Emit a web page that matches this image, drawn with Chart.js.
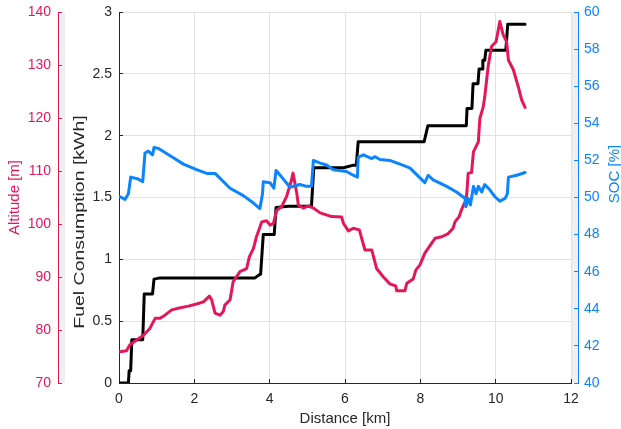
<!DOCTYPE html>
<html>
<head>
<meta charset="utf-8">
<script src="https://cdn.jsdelivr.net/npm/chart.js@4.4.0/dist/chart.umd.min.js"></script>
<style>
  body { margin: 0; background: #fff; }
</style>
</head>
<body>
<canvas id="chart" width="621" height="429"></canvas>
<script>
// fuel consumption (stairs)
const fuelKm = [0, 0.25, 0.27, 0.31, 0.34, 0.63, 0.67, 0.89, 0.93, 1.09, 3.61, 3.7, 3.76, 3.83, 4.12, 4.17, 4.5, 5.11, 5.17,
  5.96, 6.2, 6.3, 6.35, 8.1, 8.2, 9.22, 9.24, 9.37, 9.4, 9.53, 9.56, 9.64, 9.66, 9.71, 9.74, 10.27, 10.32, 10.78];
const fuelKwh = [0, 0, 0.1, 0.1, 0.35, 0.35, 0.72, 0.72, 0.84, 0.85, 0.85, 0.87, 0.88, 1.2, 1.2, 1.42, 1.43, 1.43, 1.74,
  1.74, 1.76, 1.76, 1.95, 1.95, 2.08, 2.08, 2.22, 2.22, 2.42, 2.42, 2.54, 2.54, 2.61, 2.61, 2.69, 2.69, 2.9, 2.9];

// altitude
const altKm = [0.03, 0.2, 0.29, 0.47, 0.65, 0.82, 0.96, 1.09, 1.22, 1.4, 1.57, 1.84, 2.06, 2.24, 2.4, 2.46, 2.55, 2.68,
  2.77, 2.81, 2.95, 3.03, 3.21, 3.39, 3.46, 3.57, 3.65, 3.79, 3.92, 4.01, 4.1, 4.19, 4.32, 4.45, 4.58, 4.62, 4.72, 4.76,
  4.89, 5.03, 5.16, 5.34, 5.65, 5.91, 5.96, 6.09, 6.22, 6.38, 6.53, 6.71, 6.84, 7.02, 7.19, 7.35, 7.37, 7.59, 7.64, 7.81,
  7.88, 7.99, 8.12, 8.39, 8.57, 8.74, 8.87, 8.92, 9.03, 9.1, 9.19, 9.23, 9.25, 9.27, 9.36, 9.41, 9.54, 9.58, 9.67, 9.71,
  9.8, 9.89, 10.01, 10.11, 10.2, 10.29, 10.34, 10.47, 10.6, 10.69, 10.78];
const altM = [75.9, 76.1, 77.2, 78.1, 79, 80.3, 82.2, 82.2, 82.8, 83.8, 84.1, 84.5, 84.9, 85.3, 86.4, 85.7, 83.2, 82.8,
  83.5, 84.7, 85.7, 89.1, 91, 91.6, 93.8, 95.4, 97.6, 100.4, 100.6, 99.8, 100.1, 102.6, 103.3, 105.2, 108.3, 109.6, 105.8, 103.6,
  103, 103.4, 103, 102.1, 101.4, 101.3, 100.1, 98.7, 99.2, 98.9, 95.1, 95.1, 91.6, 90, 88.7, 88.3, 87.4, 87.4, 88.8, 89.6,
  91.3, 92.3, 94.5, 97.3, 97.6, 98.2, 99.2, 100.4, 101.4, 102.8, 104.2, 105.5, 107.4, 109.6, 109.7, 113.6, 115.5, 119.9, 122.1, 124,
  129.7, 133.5, 134.4, 138.2, 135.7, 134.4, 130.9, 129.1, 125.9, 123.4, 122];

// state of charge
const socKm = [0.03, 0.16, 0.25, 0.31, 0.51, 0.63, 0.69, 0.78, 0.89, 0.93, 1.04, 1.4, 1.71, 2.06, 2.33, 2.55, 2.95, 3.3,
  3.57, 3.74, 3.81, 3.83, 4.01, 4.11, 4.17, 4.32, 4.54, 4.8, 4.98, 5.11, 5.16, 5.34, 5.51, 5.69, 6.04, 6.22, 6.33, 6.35,
  6.49, 6.71, 6.8, 6.93, 7.19, 7.46, 7.72, 8.12, 8.21, 8.34, 8.7, 8.96, 9.19, 9.21, 9.27, 9.33, 9.41, 9.48, 9.54, 9.63,
  9.71, 9.85, 9.98, 10.11, 10.25, 10.31, 10.34, 10.56, 10.78];
const socPct = [50.04, 49.9, 50.2, 51.1, 51.0, 50.85, 52.4, 52.5, 52.3, 52.7, 52.65, 52.2, 51.8, 51.5, 51.3, 51.3, 50.5, 50.1,
  49.7, 49.4, 50.2, 50.85, 50.8, 50.5, 51.45, 51.1, 50.55, 50.7, 50.6, 50.6, 52.0, 51.85, 51.75, 51.5, 51.4, 51.2, 51.1, 52.17,
  52.3, 52.1, 52.2, 52.05, 52.0, 51.8, 51.6, 50.8, 51.2, 50.95, 50.6, 50.3, 49.95, 49.5, 49.95, 49.6, 50.6, 50.2, 50.6, 50.3,
  50.7, 50.4, 50.04, 49.8, 49.95, 50.2, 51.1, 51.2, 51.35];

const FONT = "'Liberation Sans', Arial, Helvetica, sans-serif";
const PINK = '#e5175b';
const BLUE = '#0a84ff';
const INK = '#262626';
const GRID = '#e2e2e2';

const pts = (xs, ys) => xs.map((x, i) => ({ x: x, y: ys[i] }));

// keep the plot box where the layout padding puts it
function noPad(s) { s.paddingTop = 0; s.paddingBottom = 0; s.paddingLeft = 0; s.paddingRight = 0; }

// light grey strips beside the outer axes
const bands = {
  id: 'bands',
  beforeDraw(chart) {
    const { ctx, chartArea } = chart;
    const alt = chart.scales.alt, soc = chart.scales.soc;
    ctx.save();
    ctx.fillStyle = '#efefef';
    ctx.fillRect(alt.right + 3, chartArea.top, 4, chartArea.bottom - chartArea.top);
    ctx.fillRect(chartArea.right + 1, chartArea.top, soc.left - chartArea.right - 1, chartArea.bottom - chartArea.top);
    ctx.restore();
  }
};

// rotated titles drawn by hand: the right one reads bottom-to-top, the fuel one is drawn wider
function sideTitle(ctx, text, x, y, color, stretch) {
  ctx.save();
  ctx.translate(x, y);
  ctx.rotate(-Math.PI / 2);
  ctx.scale(stretch, 1);
  ctx.font = '15px ' + FONT;
  ctx.fillStyle = color;
  ctx.textAlign = 'center';
  ctx.textBaseline = 'middle';
  ctx.fillText(text, 0, 0);
  ctx.restore();
}
const titles = {
  id: 'titles',
  afterDraw(chart) {
    const fuel = chart.scales.fuel, soc = chart.scales.soc;
    sideTitle(chart.ctx, 'Fuel Consumption [kWh]', fuel.left + 22, 222, INK, 1.3);
    sideTitle(chart.ctx, 'SOC [%]', soc.right - 6, 174, BLUE, 1);
  }
};

new Chart(document.getElementById('chart'), {
  type: 'line',
  data: {
    datasets: [
      { label: 'SOC', data: pts(socKm, socPct), yAxisID: 'soc', borderColor: BLUE, borderWidth: 3 },
      { label: 'Altitude', data: pts(altKm, altM), yAxisID: 'alt', borderColor: PINK, borderWidth: 3 },
      { label: 'Fuel', data: pts(fuelKm, fuelKwh), yAxisID: 'fuel', borderColor: '#000', borderWidth: 3 }
    ]
  },
  options: {
    responsive: false,
    animation: false,
    layout: { padding: { top: 12, right: 0, bottom: 0, left: 0 } },
    elements: {
      point: { radius: 0 },
      line: { tension: 0, borderJoinStyle: 'round', borderCapStyle: 'round' }
    },
    plugins: { legend: { display: false }, tooltip: { enabled: false } },
    scales: {
      x: {
        type: 'linear', min: 0, max: 12,
        ticks: { stepSize: 2, padding: 12, color: INK, font: { family: FONT, size: 14 } },
        grid: { color: GRID, tickLength: -4, tickColor: INK },
        border: { color: INK },
        title: { display: true, text: 'Distance [km]', color: INK, font: { family: FONT, size: 15 }, padding: { top: 0, bottom: 1 } },
        afterFit(s) { s.height = 46; noPad(s); }
      },
      fuel: {
        type: 'linear', position: 'left', weight: 1, min: 0, max: 3,
        ticks: { stepSize: 0.5, padding: 11, color: INK, font: { family: FONT, size: 14 }, callback: v => String(v) },
        grid: { color: GRID, tickLength: -4, tickColor: INK },
        border: { color: INK },
        afterFit(s) { s.width = 61; noPad(s); }
      },
      alt: {
        type: 'linear', position: 'left', weight: 2, min: 70, max: 140,
        ticks: { stepSize: 10, padding: 11, color: PINK, font: { family: FONT, size: 14 } },
        grid: { drawOnChartArea: false, tickLength: -4, tickColor: PINK },
        border: { color: PINK },
        title: { display: true, text: 'Altitude [m]', color: PINK, font: { family: FONT, size: 15 }, padding: { top: 6, bottom: 0 } },
        afterFit(s) { s.width = 58; noPad(s); }
      },
      gap: {
        type: 'linear', position: 'right', weight: 1,
        ticks: { display: false }, grid: { display: false }, border: { display: false },
        afterFit(s) { s.width = 7; noPad(s); }
      },
      soc: {
        type: 'linear', position: 'right', weight: 2, min: 40, max: 60,
        ticks: { stepSize: 2, padding: 10, color: BLUE, font: { family: FONT, size: 14 } },
        grid: { drawOnChartArea: false, tickLength: -4, tickColor: BLUE },
        border: { color: BLUE },
        afterFit(s) { s.width = 43; noPad(s); }
      }
    }
  },
  plugins: [bands, titles]
});
</script>
</body>
</html>
